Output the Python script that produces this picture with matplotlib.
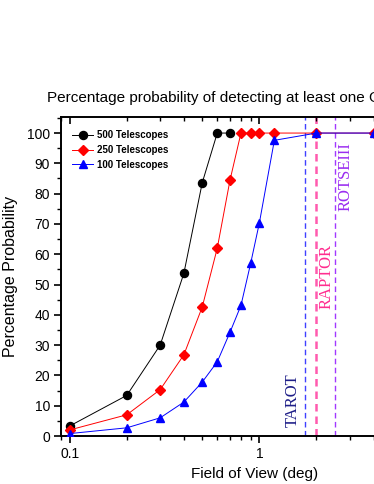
import matplotlib
matplotlib.use("Agg")
import matplotlib.pyplot as plt
from matplotlib.ticker import MultipleLocator, LogLocator, FixedLocator, FixedFormatter, NullFormatter

plt.rcParams['font.family'] = ['Liberation Sans', 'DejaVu Sans']

# Data
fov_500 = [0.1, 0.2, 0.3, 0.4, 0.5, 0.6, 0.7]
prob_500 = [3.3, 13.4, 30.0, 53.7, 83.6, 100, 100]

fov_250 = [0.1, 0.2, 0.3, 0.4, 0.5, 0.6, 0.7, 0.8, 0.9, 1.0, 1.2, 2.0, 4.0]
prob_250 = [2.0, 7.0, 15.3, 26.8, 42.6, 62.0, 84.4, 100, 100, 100, 100, 100, 100]

fov_100 = [0.1, 0.2, 0.3, 0.4, 0.5, 0.6, 0.7, 0.8, 0.9, 1.0, 1.2, 2.0, 4.0]
prob_100 = [0.8, 2.7, 6.0, 11.2, 17.8, 24.5, 34.2, 43.1, 57.0, 70.3, 97.6, 100, 100]

series_labels = ["500 Telescopes", "250 Telescopes", "100 Telescopes"]

instruments = ["TAROT", "RAPTOR", "ROTSEIII"]
instrument_fov = [1.75, 2.0, 2.52]

title_text = "Percentage probability of detecting at least one GRB afterglow"

fig = plt.figure(figsize=(3.74, 4.84), dpi=100)
W, H = 374, 484
ax = fig.add_axes([61 / W, 1 - 436 / H, (449 - 61) / W, (436 - 117) / H])

ax.set_xscale('log')
ax.set_xlim(0.09, 10)
ax.set_ylim(0, 105.3)

ms = 5.8
lw = 0.7
ax.plot(fov_500, prob_500, color='black', marker='o', ms=ms, lw=lw, label=series_labels[0], zorder=3)
ax.plot(fov_250, prob_250, color='red', marker='D', ms=ms * 0.85, lw=lw, label=series_labels[1], zorder=4)
ax.plot(fov_100, prob_100, color='blue', marker='^', ms=ms * 1.05, lw=lw, label=series_labels[2], zorder=5)

# Instrument lines
line_styles = [
    dict(color='#4040ff', lw=1.0, dashes=(4, 2.5)),
    dict(color='#ff5aae', lw=1.8, dashes=(3, 2)),
    dict(color='#a238ff', lw=1.0, dashes=(4, 2.5)),
]
text_colors = ['#1e1e88', '#ff2d8f', '#9a2cf0']
text_pos = [(1.50, 11.9), (2.27, 52.8), (2.86, 85.5)]
for name, xv, st, tc, (tx, ty) in zip(instruments, instrument_fov, line_styles, text_colors, text_pos):
    ax.axvline(xv, zorder=2, **st)
    ax.text(tx, ty, name, rotation=90, ha='center', va='center', color=tc,
            fontsize=12, family=['Liberation Serif', 'DejaVu Serif'])

# Ticks
ax.xaxis.set_major_locator(FixedLocator([0.1, 1]))
ax.xaxis.set_major_formatter(FixedFormatter(['0.1', '1']))
ax.xaxis.set_minor_locator(LogLocator(base=10, subs=(2, 3, 4, 5, 6, 7, 8, 9)))
ax.xaxis.set_minor_formatter(NullFormatter())
ax.yaxis.set_major_locator(MultipleLocator(10))
ax.yaxis.set_minor_locator(MultipleLocator(5))
ax.tick_params(which='major', direction='out', length=5, width=1.2, labelsize=10, pad=3)
ax.tick_params(which='minor', direction='out', length=3, width=1.0)
ax.tick_params(top=False, right=False)
for s in ax.spines.values():
    s.set_linewidth(1.4)

ax2 = ax.twiny()
ax2.set_xscale('log')
ax2.set_xlim(ax.get_xlim())
ax2.xaxis.set_major_locator(FixedLocator([0.1, 1]))
ax2.xaxis.set_minor_locator(LogLocator(base=10, subs=(2, 3, 4, 5, 6, 7, 8, 9)))
ax2.xaxis.set_major_formatter(NullFormatter())
ax2.xaxis.set_minor_formatter(NullFormatter())
ax2.tick_params(which='major', direction='in', length=5, width=1.2)
ax2.tick_params(which='minor', direction='in', length=3, width=1.0)
for s in ax2.spines.values():
    s.set_visible(False)

ax.set_xlabel("Field of View (deg)", fontsize=11, labelpad=4)
ax.set_ylabel("Percentage Probability", fontsize=11.5, labelpad=6)

fig.text(47 / W, 1 - 98 / H, title_text, fontsize=11, ha='left', va='center')

leg = ax.legend(loc='upper left', bbox_to_anchor=(0.028, 0.958), frameon=False,
                prop={'weight': 'bold', 'size': 7}, handlelength=2.2, handletextpad=0.4,
                labelspacing=0.48, borderpad=0, borderaxespad=0)

fig.savefig("out.png", dpi=100)
